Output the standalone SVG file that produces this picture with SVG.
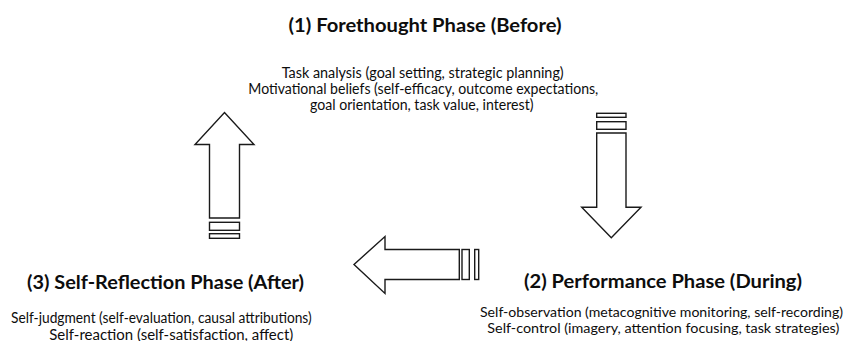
<svg xmlns="http://www.w3.org/2000/svg" width="847" height="341" viewBox="0 0 847 341">
  <style>
    .title { font-family: Lato, "Open Sans", "Liberation Sans", sans-serif; font-weight: 700; font-size: 19px; fill: #0d0d0d; }
    .body { font-family: Lato, "Open Sans", "Liberation Sans", sans-serif; font-size: 14.8px; fill: #0d0d0d; }
    .body.tight { font-size: 14px; }
    .arrow { fill: #fff; stroke: #1a1a1a; stroke-width: 1.4; stroke-linejoin: miter; }
  </style>

  <rect width="847" height="341" fill="#fff"/>

  <!-- Phase 1 -->
  <g id="forethought">
    <text class="title" x="288.5" y="31.5" textLength="273" lengthAdjust="spacingAndGlyphs">(1) Forethought Phase (Before)</text>
    <text class="body" x="281.7" y="77.5" textLength="282" lengthAdjust="spacingAndGlyphs">Task analysis (goal setting, strategic planning)</text>
    <text class="body" x="248.3" y="94" textLength="350" lengthAdjust="spacingAndGlyphs">Motivational beliefs (self-efficacy, outcome expectations,</text>
    <text class="body" x="310" y="110.3" textLength="223.5" lengthAdjust="spacingAndGlyphs">goal orientation, task value, interest)</text>
  </g>

  <!-- Phase 2 -->
  <g id="performance">
    <text class="title" x="524" y="287.5" textLength="278" lengthAdjust="spacingAndGlyphs">(2) Performance Phase (During)</text>
    <text class="body tight" x="480" y="316.5" textLength="363" lengthAdjust="spacingAndGlyphs">Self-observation (metacognitive monitoring, self-recording)</text>
    <text class="body tight" x="487.3" y="333.3" textLength="352" lengthAdjust="spacingAndGlyphs">Self-control (imagery, attention focusing, task strategies)</text>
  </g>

  <!-- Phase 3 -->
  <g id="self-reflection">
    <text class="title" x="27" y="289" textLength="277" lengthAdjust="spacingAndGlyphs">(3) Self-Reflection Phase (After)</text>
    <text class="body" x="11" y="323" textLength="300.7" lengthAdjust="spacingAndGlyphs">Self-judgment (self-evaluation, causal attributions)</text>
    <text class="body" x="49.3" y="339.5" textLength="244" lengthAdjust="spacingAndGlyphs">Self-reaction (self-satisfaction, affect)</text>
  </g>

  <!-- Cycle arrows -->
  <g id="connectors">
    <!-- forethought to performance (down) -->
    <g id="arrow-down">
      <rect class="arrow" x="596.7" y="113.3" width="29.3" height="4"/>
      <rect class="arrow" x="596.7" y="121.7" width="29.3" height="7.6"/>
      <polygon class="arrow" points="596.7,133 626,133 626,207.3 641,207.3 611.3,237.7 581.7,207.3 596.7,207.3"/>
    </g>
    <!-- performance to self-reflection (left) -->
    <g id="arrow-left">
      <rect class="arrow" x="474.7" y="249.5" width="4" height="30"/>
      <rect class="arrow" x="462" y="249.5" width="7.3" height="30"/>
      <polygon class="arrow" points="459.3,249.5 459.3,279.5 385,279.5 385,293.5 354,264.5 385,236.5 385,249.5"/>
    </g>
    <!-- self-reflection to forethought (up) -->
    <g id="arrow-up">
      <rect class="arrow" x="209.5" y="233.7" width="30" height="4.6"/>
      <rect class="arrow" x="209.5" y="222.3" width="30" height="8"/>
      <polygon class="arrow" points="209.5,218 239.5,218 239.5,144.5 254,144.5 224.5,112.5 195,144.5 209.5,144.5"/>
    </g>
  </g>
</svg>
